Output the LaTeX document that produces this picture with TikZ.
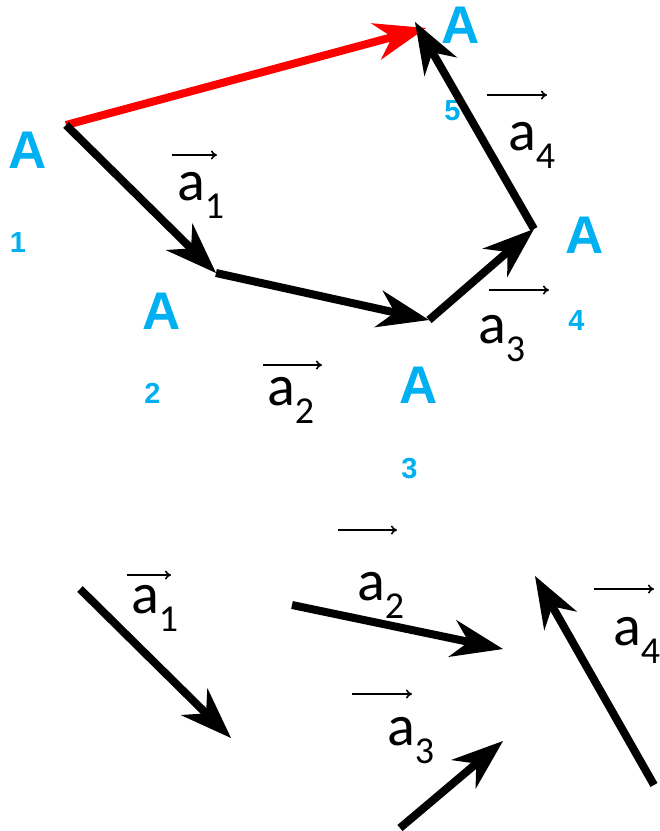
\documentclass[tikz,border=0pt]{standalone}
\usepackage{fontspec}
\setmainfont{Liberation Sans}
\newfontfamily\labfont{Carlito}
\usetikzlibrary{arrows.meta}
\definecolor{bleuA}{RGB}{0,176,240}
\newcommand{\veca}[1]{{\labfont\fontsize{58}{58}\selectfont a}\raisebox{-18pt}{\labfont\fontsize{38}{38}\selectfont #1}}
\begin{document}
\begin{tikzpicture}[x=1pt,y=-1pt,
    vecteur/.style={line width=8pt,-{Stealth[length=52pt,width=38pt,inset=17pt,line width=0pt]}},
    fleche/.style={line width=1.6pt,-{To[length=6pt,width=9pt]}},
    sommet/.style={text=bleuA,font=\bfseries\fontsize{53}{53}\selectfont,inner sep=0pt,anchor=base},
    indice/.style={text=bleuA,font=\bfseries\fontsize{29}{29}\selectfont,inner sep=0pt,anchor=base},
    etiquette/.style={inner sep=0pt,anchor=base west}]
      \useasboundingbox (0,0) rectangle (660,831);

      % Sommets
      \node[sommet] (A1) at (27.5,168) {A};
      \node[indice] (i1) at (18,252) {1};
      \node[sommet] (A2) at (161.5,329) {A};
      \node[indice] (i2) at (152.5,403) {2};
      \node[sommet] (A3) at (419,403) {A};
      \node[indice] (i3) at (409.5,478) {3};
      \node[sommet] (A4) at (585,253) {A};
      \node[indice] (i4) at (576.5,330) {4};
      \node[sommet] (A5) at (460.5,43) {A};
      \node[indice] (i5) at (452.5,120) {5};

      % Points du polygone
      \coordinate (P1) at (66,125);
      \coordinate (P2) at (216,273);
      \coordinate (P3) at (429,320);
      \coordinate (P4) at (534,229);
      \coordinate (P5) at (415,22);
      \coordinate (R) at (426,28);

      % Resultante
      \draw[vecteur,red] (P1) -- (R);

      % Vecteurs du polygone
      \draw[vecteur] (P1) -- (P2);
      \draw[vecteur] (P2) -- (P3);
      \draw[vecteur] (P3) -- (P4);
      \draw[vecteur] (P4) -- (P5);

      % Noms des vecteurs (haut)
      \node[etiquette] (h1) at (177,200) {\veca{1}};
      \node[etiquette] (h2) at (267,405) {\veca{2}};
      \node[etiquette] (h3) at (478,343) {\veca{3}};
      \node[etiquette] (h4) at (508,150) {\veca{4}};
      \draw[fleche] (172,155) -- (217,155);
      \draw[fleche] (263,365) -- (322,365);
      \draw[fleche] (489,290) -- (549,290);
      \draw[fleche] (487,95) -- (547,95);

      % Vecteurs isoles
      \coordinate (B1) at (80,589);
      \coordinate (C1) at (231,738);
      \coordinate (B2) at (292,605);
      \coordinate (C2) at (503,649);
      \coordinate (B3) at (400,828);
      \coordinate (C3) at (503,741);
      \coordinate (B4) at (654,785);
      \coordinate (C4) at (535,576);
      \draw[vecteur] (B1) -- (C1);
      \draw[vecteur] (B2) -- (C2);
      \draw[vecteur] (B3) -- (C3);
      \draw[vecteur] (B4) -- (C4);

      % Noms des vecteurs (bas)
      \node[etiquette] (b1) at (131,613) {\veca{1}};
      \node[etiquette] (b2) at (357,600) {\veca{2}};
      \node[etiquette] (b3) at (387,745) {\veca{3}};
      \node[etiquette] (b4) at (613,645) {\veca{4}};
      \draw[fleche] (127,575) -- (171,575);
      \draw[fleche] (338,530) -- (397,530);
      \draw[fleche] (352,694) -- (412,694);
      \draw[fleche] (594,589) -- (654,589);
    \end{tikzpicture}
\end{document}
